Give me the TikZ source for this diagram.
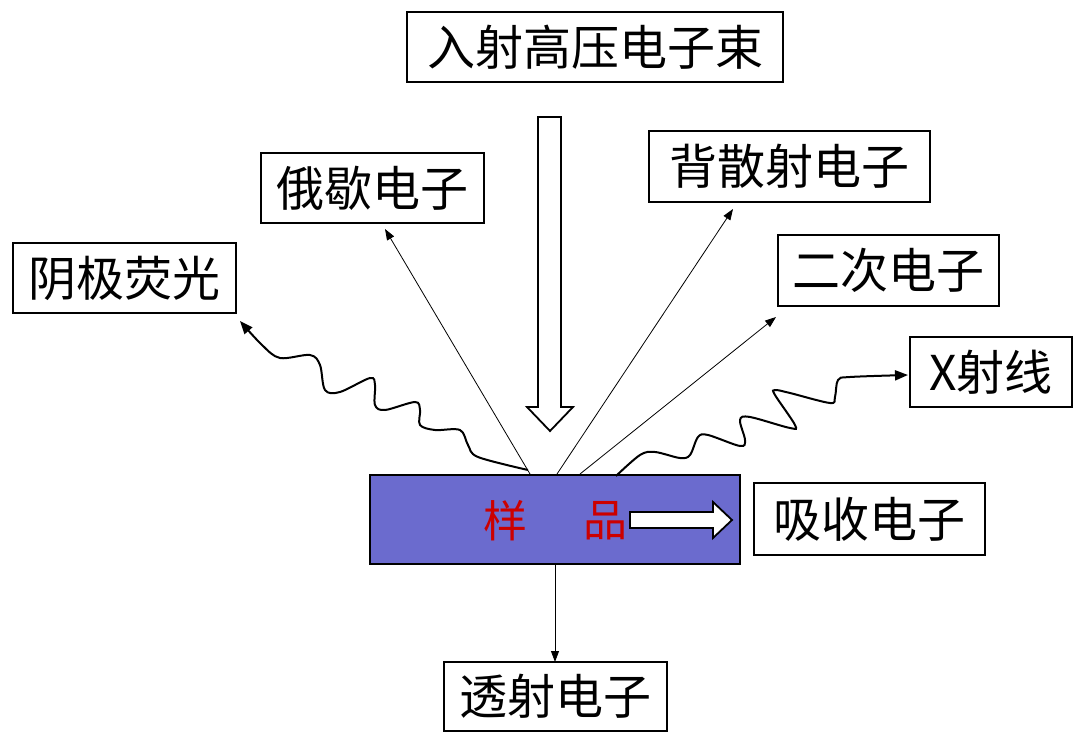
\documentclass[tikz,border=0pt]{standalone}
\usepackage{fontspec}
\setmainfont{Noto Sans CJK SC}
\usetikzlibrary{arrows.meta}
\definecolor{samplefill}{RGB}{107,107,206}
\definecolor{samplered}{RGB}{204,0,0}
\begin{document}
\begin{tikzpicture}[x=1pt,y=-1pt,
  lbl/.style={draw,line width=1.8pt,inner sep=0pt,font=\fontsize{48}{54}\selectfont,anchor=center},
  ray/.style={line width=0.8pt,-{Triangle[length=11pt,width=8pt]}},
  wave/.style={line width=2pt,-{Triangle[length=13pt,width=10pt]}},
  bigarrow/.style={draw,fill=white,line width=1.8pt,line join=miter}]
\useasboundingbox (0,0) rectangle (1080,752);
% boxes
\node[lbl,minimum width=376pt,minimum height=70pt] (beam) at (595,47) {入射高压电子束};
\node[lbl,minimum width=223pt,minimum height=70pt] (auger) at (372.5,188) {俄歇电子};
\node[lbl,minimum width=281pt,minimum height=71pt] (back) at (789.5,166.5) {背散射电子};
\node[lbl,minimum width=223pt,minimum height=70pt] (cathodo) at (124.5,278) {阴极荧光};
\node[lbl,minimum width=221pt,minimum height=71pt] (second) at (888.5,270.5) {二次电子};
\node[lbl,minimum width=162pt,minimum height=70pt] (xray) at (991,372) {X射线};
\node[lbl,minimum width=231pt,minimum height=72pt] (absorb) at (869.5,519) {吸收电子};
\node[lbl,minimum width=223pt,minimum height=69pt] (trans) at (555.5,696.5) {透射电子};
% sample
\node[draw,line width=1.8pt,fill=samplefill,minimum width=370pt,minimum height=89pt,inner sep=0pt] (sample) at (555,519.5) {};
\node[text=samplered,font=\fontsize{44}{48}\selectfont,inner sep=0pt] (s1) at (505,521) {样};
\node[text=samplered,font=\fontsize{44}{48}\selectfont,inner sep=0pt] (s2) at (605,521) {品};
% big incident arrow
\draw[bigarrow] (538,117) -- (561,117) -- (561,407) -- (573,407) -- (550,431) -- (527,407) -- (538,407) -- cycle;
% absorbed arrow
\draw[bigarrow] (630,512) -- (713,512) -- (713,502) -- (732,520) -- (713,538) -- (713,528) -- (630,528) -- cycle;
% emission points
\coordinate (pA) at (530,474);
\coordinate (pB) at (557,474);
\coordinate (pC) at (580,474);
\coordinate (pT) at (555,565);
\coordinate (eA) at (385,229);
\coordinate (eB) at (733,209);
\coordinate (eC) at (776,317);
\coordinate (eT) at (555,662);
\draw[ray] (pA) -- (eA);
\draw[ray] (pB) -- (eB);
\draw[ray] (pC) -- (eC);
\draw[ray] (pT) -- (eT);
% cathodoluminescence wave
\draw[wave] plot[smooth,tension=0.55] coordinates {(528,470) (478,457) (468,445) (460,430) (435,430) (420,425) (420,410) (415,402) (385,410) (375,405) (375,385) (370,378) (340,392) (325,390) (320,365) (310,355) (280,358) (262,345) (240,321)};
% x-ray wave
\draw[wave] plot[smooth,tension=0.55] coordinates {(616,476) (640,455) (655,452) (680,458) (690,455) (698,437) (708,435) (740,446) (745,440) (740,420) (750,417) (790,428) (795,425) (775,395) (775,390) (790,393) (830,403) (835,397) (838,380) (850,377) (908,375)};
\end{tikzpicture}
\end{document}
